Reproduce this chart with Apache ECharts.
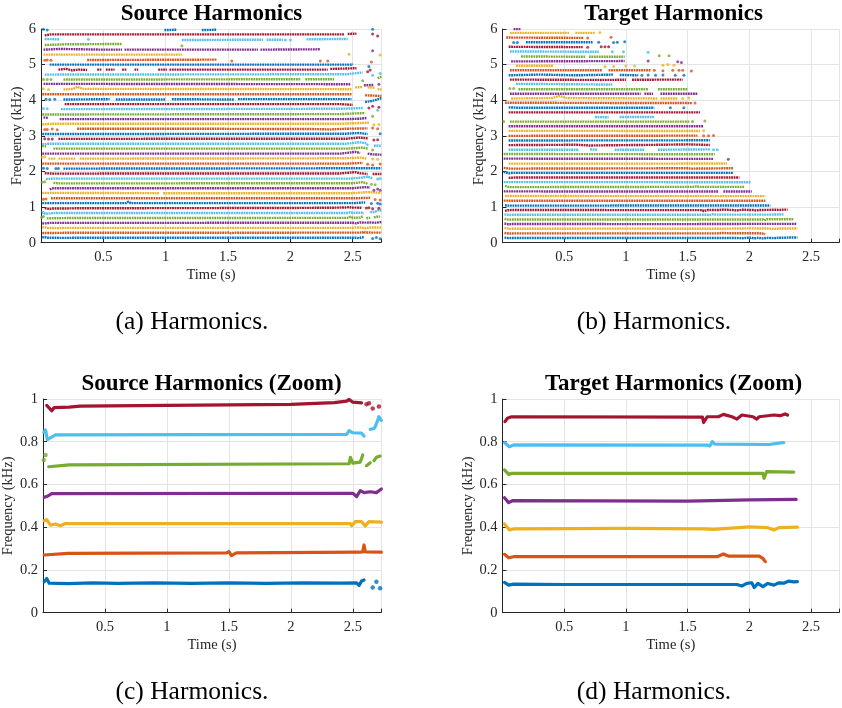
<!DOCTYPE html>
<html>
<head>
<meta charset="utf-8">
<script src="https://cdn.jsdelivr.net/npm/echarts@6/dist/echarts.min.js"></script>
<style>html,body{margin:0;padding:0;background:#fff}#c{width:842px;height:708px}</style>
</head>
<body>
<div id="c"></div>
<script>
// MATLAB default colour order
const COLORS = ['#0072BD','#D95319','#EDB120','#7E2F8E','#77AC30','#4DBEEE','#A2142F'];
const X_TICKS = [0.5, 1, 1.5, 2, 2.5];
const TITLES = ['Source Harmonics', 'Target Harmonics', 'Source Harmonics (Zoom)', 'Target Harmonics (Zoom)'];
const CAPTIONS = ['(a) Harmonics.', '(b) Harmonics.', '(c) Harmonics.', '(d) Harmonics.'];

// ---- Source harmonics 1..7 (time s, freq kHz), used by (a) and (c)
const SRC_LOW = [
 {p:[[[0.01,0.145],[0.03,0.16],[0.05,0.138],[0.2,0.136],[0.4,0.14],[0.6,0.137],[0.9,0.14],[1.2,0.137],[1.5,0.14],[1.8,0.137],[2.1,0.14],[2.4,0.138],[2.53,0.14],[2.55,0.128],[2.57,0.148],[2.59,0.153]]], d:[[2.66,0.118],[2.69,0.145],[2.72,0.114]]},
 {p:[[[0.01,0.27],[0.2,0.278],[1.48,0.28],[1.50,0.286],[1.52,0.267],[1.56,0.28],[2.55,0.283],[2.58,0.285],[2.59,0.317],[2.60,0.285],[2.73,0.283]]], d:[]},
 {p:[[[0.01,0.43],[0.03,0.435],[0.06,0.41],[0.10,0.415],[0.14,0.407],[0.18,0.417],[2.48,0.417],[2.49,0.407],[2.52,0.426],[2.57,0.426],[2.60,0.406],[2.63,0.426],[2.73,0.424]]], d:[]},
 {p:[[[0.01,0.54],[0.04,0.546],[0.07,0.557],[2.50,0.559],[2.53,0.543],[2.56,0.571],[2.59,0.562],[2.64,0.566],[2.69,0.562],[2.73,0.579]]], d:[]},
 {p:[[[0.046,0.683],[0.21,0.692],[2.47,0.697],[2.48,0.727],[2.50,0.70],[2.56,0.705],[2.58,0.738]],[[2.61,0.688],[2.64,0.702]],[[2.67,0.711],[2.69,0.727],[2.72,0.733]]], d:[[0.006,0.715],[0.02,0.738]]},
 {p:[[[0.006,0.844],[0.02,0.855],[0.035,0.81],[0.1,0.832],[2.45,0.834],[2.47,0.852],[2.50,0.842],[2.57,0.840],[2.59,0.827]],[[2.64,0.858],[2.67,0.862],[2.68,0.87],[2.70,0.90],[2.71,0.917],[2.73,0.90]]], d:[]},
 {p:[[[0.03,0.97],[0.07,0.945],[0.09,0.96],[0.21,0.962],[0.30,0.967],[1.0,0.97],[2.0,0.975],[2.35,0.983],[2.45,0.99],[2.47,0.998],[2.50,0.985],[2.57,0.982]]], d:[[2.61,0.975],[2.63,0.98],[2.66,0.955],[2.71,0.965]]}
];

// ---- Source harmonics 8..43, used by (a)
const SRC_HIGH = [
 /*h8*/ {p:[[[0.01,1.11],[0.68,1.11],[0.70,1.15],[0.72,1.11],[2.50,1.11],[2.60,1.13]]], d:[[2.65,1.10],[2.70,1.11],[2.72,1.09]]},
 /*h9*/ {p:[[[0.08,1.25],[2.55,1.25],[2.64,1.26]]], d:[[0.02,1.22],[0.04,1.23],[2.68,1.21],[2.72,1.20]]},
 /*h10*/ {p:[[[0.01,1.40],[0.95,1.39]],[[0.98,1.39],[2.50,1.39],[2.62,1.42],[2.73,1.40]]], d:[]},
 /*h11*/ {p:[[[0.07,1.50],[0.10,1.53],[2.50,1.53],[2.60,1.56],[2.64,1.55]]], d:[[2.67,1.47],[2.70,1.51],[2.72,1.47]]},
 /*h12*/ {p:[[[0.10,1.68],[0.15,1.665],[2.50,1.67],[2.58,1.70],[2.62,1.66]]], d:[[0.01,1.70],[0.03,1.71],[2.65,1.64],[2.68,1.63]]},
 /*h13*/ {p:[[[0.04,1.79],[0.10,1.80],[2.48,1.80],[2.58,1.83],[2.62,1.86],[2.66,1.80]]], d:[[2.70,1.79],[2.72,1.80]]},
 /*h14*/ {p:[[[0.03,1.95],[0.10,1.94],[2.40,1.945],[2.52,1.98],[2.56,1.95],[2.62,1.93]],[[2.66,1.93],[2.73,1.93]]], d:[]},
 /*h15*/ {p:[[[0.18,2.08],[2.65,2.09],[2.73,2.09]]], d:[[0.02,2.09],[0.05,2.08],[0.12,2.08],[0.14,2.08]]},
 /*h16*/ {p:[[[0.01,2.22],[2.45,2.22],[2.58,2.24]]], d:[[2.62,2.20],[2.66,2.18],[2.72,2.21]]},
 /*h17*/ {p:[[[0.06,2.36],[0.12,2.36]],[[0.14,2.36],[0.28,2.36]],[[0.31,2.36],[2.45,2.37],[2.57,2.39],[2.61,2.36]]], d:[[0.01,2.40],[0.03,2.41],[2.66,2.35],[2.70,2.34]]},
 /*h18*/ {p:[[[0.01,2.50],[2.40,2.50],[2.52,2.55],[2.56,2.52]],[[2.62,2.50],[2.66,2.48],[2.73,2.47]]], d:[]},
 /*h19*/ {p:[[[0.01,2.72],[0.04,2.70]],[[0.10,2.64],[2.45,2.64],[2.58,2.67],[2.62,2.64]]], d:[[2.66,2.60]]},
 /*h20*/ {p:[[[0.01,2.76],[0.06,2.78],[2.45,2.78],[2.55,2.82],[2.60,2.80],[2.63,2.72]],[[2.67,2.72],[2.73,2.72]]], d:[]},
 /*h21*/ {p:[[[0.14,2.915],[2.45,2.92],[2.55,2.95],[2.62,2.93]]], d:[[0.03,2.92],[0.06,2.91],[0.09,2.91],[2.67,2.88],[2.70,2.89],[2.73,2.88]]},
 /*h22*/ {p:[[[0.01,3.05],[2.45,3.06],[2.55,3.08],[2.62,3.05]]], d:[[2.72,3.06]]},
 /*h23*/ {p:[[[0.29,3.20],[1.2,3.20],[2.2,3.19],[2.32,3.18],[2.45,3.20],[2.62,3.21]]], d:[[0.03,3.18],[0.05,3.18],[0.09,3.19],[0.13,3.17],[2.66,3.22],[2.70,3.20]]},
 /*h24*/ {p:[[[0.01,3.32],[0.10,3.34],[2.40,3.34],[2.55,3.36],[2.63,3.37]]], d:[[2.67,3.31],[2.71,3.32]]},
 /*h25*/ {p:[[[0.02,3.52],[0.06,3.50]],[[0.15,3.47],[2.45,3.47],[2.55,3.48],[2.61,3.50]]], d:[]},
 /*h26*/ {p:[[[0.01,3.60],[2.40,3.61],[2.52,3.63],[2.60,3.64]]], d:[[2.66,3.55]]},
 /*h27*/ {p:[[[0.16,3.75],[2.40,3.76],[2.58,3.78]]], d:[[0.02,3.77],[0.05,3.76],[2.70,3.72]]},
 /*h28*/ {p:[[[0.19,3.89],[2.40,3.89],[2.50,3.87]]], d:[[2.63,3.78],[2.66,3.83],[2.71,3.80]]},
 /*h29*/ {p:[[[0.18,4.02],[0.55,4.03]],[[0.60,4.02],[1.0,4.02]],[[1.05,4.03],[1.55,4.02]],[[1.58,4.03],[2.49,4.03]],[[2.60,3.95],[2.66,3.98],[2.73,4.06]]], d:[[0.04,4.03],[0.07,4.02],[0.11,4.03]]},
 /*h30*/ {p:[[[0.01,4.17],[2.49,4.17]],[[2.60,4.14],[2.73,4.12]]], d:[]},
 /*h31*/ {p:[[[0.18,4.30],[0.26,4.32],[0.29,4.38],[0.33,4.32],[2.49,4.31]],[[2.52,4.36],[2.58,4.37]],[[2.62,4.36],[2.68,4.35]],[[2.70,4.31],[2.73,4.30]]], d:[[0.02,4.32],[0.06,4.30]]},
 /*h32*/ {p:[[[0.02,4.46],[2.48,4.45]],[[2.59,4.42],[2.67,4.43]]], d:[[2.71,4.45]]},
 /*h33*/ {p:[[[0.18,4.58],[2.08,4.59]],[[2.12,4.59],[2.35,4.59]],[[2.70,4.62],[2.73,4.66]]], d:[[0.02,4.58],[0.05,4.58],[0.08,4.58],[2.58,4.55]]},
 /*h34*/ {p:[[[0.03,4.72],[2.45,4.73],[2.58,4.78]]], d:[[2.66,4.70],[2.72,4.75]]},
 /*h35*/ {p:[[[0.14,4.86],[0.20,4.88],[0.25,4.84],[0.30,4.86],[0.37,4.85]],[[0.45,4.86],[0.49,4.86]],[[0.52,4.86],[0.59,4.86]],[[0.65,4.86],[0.69,4.86]],[[0.75,4.86],[0.78,4.86]],[[0.94,4.86],[1.01,4.86]],[[1.03,4.86],[2.30,4.86]],[[2.32,4.88],[2.45,4.89],[2.53,4.90]]], d:[[2.62,4.80],[2.64,4.85]]},
 /*h36*/ {p:[[[0.07,5.00],[2.49,5.00],[2.50,5.02]]], d:[[2.63,4.95]]},
 /*h37*/ {p:[[[0.37,5.13],[1.41,5.14]]], d:[[0.03,5.12],[0.05,5.13],[0.08,5.12],[1.53,5.10],[2.24,5.10],[2.30,5.10],[2.65,5.07]]},
 /*h38*/ {p:[[[0.02,5.28],[1.13,5.28]]], d:[[2.47,5.29],[2.72,5.27]]},
 /*h39*/ {p:[[[0.02,5.42],[0.15,5.44],[0.5,5.42],[0.65,5.42]],[[0.67,5.42],[1.74,5.42]],[[1.76,5.42],[2.24,5.43]]], d:[[2.66,5.39]]},
 /*h40*/ {p:[[[0.03,5.55],[0.2,5.57],[0.65,5.58]]], d:[[1.13,5.53]]},
 /*h41*/ {p:[[[0.03,5.72],[0.15,5.71]],[[1.13,5.69],[1.78,5.70]],[[1.81,5.70],[1.94,5.70]],[[2.13,5.71],[2.46,5.72]]], d:[[0.38,5.71],[1.96,5.69],[2.0,5.69]]},
 /*h42*/ {p:[[[0.03,5.82],[0.08,5.85],[2.43,5.85]],[[2.46,5.86],[2.53,5.87]]], d:[[2.66,5.86],[2.70,5.80]]},
 /*h43*/ {p:[[[0.99,5.97],[1.09,5.98]],[[1.29,5.97],[1.41,5.98]]], d:[[0.02,5.99],[0.05,5.97],[2.66,5.99]]}
];

// ---- Target harmonics 1..7, used by (b) and (d)
const TGT_LOW = [
 {p:[[[0.016,0.142],[0.05,0.129],[0.09,0.134],[0.5,0.132],[1.0,0.132],[1.5,0.132],[1.90,0.132],[1.94,0.125],[1.98,0.137],[2.02,0.14],[2.04,0.118],[2.07,0.137],[2.11,0.122],[2.15,0.137],[2.20,0.129],[2.24,0.14],[2.28,0.138],[2.32,0.148],[2.36,0.144],[2.39,0.145]]], d:[]},
 {p:[[[0.016,0.273],[0.05,0.257],[0.09,0.262],[1.74,0.262],[1.79,0.275],[1.83,0.265],[2.08,0.265],[2.11,0.254],[2.13,0.239]]], d:[]},
 {p:[[[0.016,0.415],[0.056,0.387],[0.09,0.392],[1.0,0.395],[1.63,0.392],[1.71,0.39],[2.0,0.402],[2.15,0.398],[2.20,0.387],[2.24,0.398],[2.39,0.40]]], d:[]},
 {p:[[[0.016,0.538],[0.05,0.515],[0.08,0.524],[1.5,0.522],[2.0,0.528],[2.38,0.53]]], d:[]},
 {p:[[[0.016,0.668],[0.05,0.647],[0.075,0.652],[2.11,0.652],[2.12,0.629],[2.14,0.66],[2.36,0.658]]], d:[]},
 {p:[[[0.016,0.796],[0.055,0.777],[0.09,0.785],[1.66,0.784],[1.68,0.78],[1.70,0.80],[1.72,0.789],[2.16,0.787],[2.27,0.796],[2.28,0.796]]], d:[]},
 {p:[[[0.02,0.894],[0.04,0.91],[0.074,0.917],[1.62,0.915],[1.63,0.89],[1.66,0.917],[1.75,0.917],[1.79,0.928],[1.86,0.917],[1.90,0.906],[1.94,0.925],[2.03,0.917],[2.06,0.906],[2.08,0.917],[2.20,0.925],[2.25,0.922],[2.29,0.93],[2.31,0.925]]], d:[]}
];

// ---- Target harmonics 8..46, used by (b)
const TGT_HIGH = [
 /*h8*/ {p:[[[0.02,1.05],[0.05,1.04],[2.17,1.046]]], d:[]},
 /*h9*/ {p:[[[0.01,1.18],[2.13,1.176]]], d:[]},
 /*h10*/ {p:[[[0.02,1.31],[2.13,1.307]]], d:[]},
 /*h11*/ {p:[[[0.01,1.44],[1.75,1.438]],[[1.79,1.438],[2.02,1.438]]], d:[]},
 /*h12*/ {p:[[[0.02,1.59],[0.06,1.56],[1.55,1.568],[1.57,1.58],[1.60,1.568],[1.96,1.568]]], d:[]},
 /*h13*/ {p:[[[0.01,1.70],[2.01,1.699]]], d:[]},
 /*h14*/ {p:[[[0.05,1.82],[0.10,1.83],[1.92,1.83]]], d:[]},
 /*h15*/ {p:[[[0.01,1.99],[0.05,1.95],[0.08,1.96],[1.87,1.961]]], d:[]},
 /*h16*/ {p:[[[0.01,2.10],[0.06,2.08],[1.50,2.09],[1.53,2.08],[1.87,2.091]]], d:[]},
 /*h17*/ {p:[[[0.05,2.22],[1.82,2.222]]], d:[]},
 /*h18*/ {p:[[[0.01,2.36],[1.71,2.353]]], d:[[1.83,2.34]]},
 /*h19*/ {p:[[[0.01,2.49],[1.72,2.483]]], d:[]},
 /*h20*/ {p:[[[0.05,2.61],[0.62,2.61]],[[0.71,2.62],[0.77,2.61]],[[0.91,2.61],[1.15,2.61]],[[1.26,2.61],[1.68,2.62]]], d:[[1.71,2.61],[1.74,2.61]]},
 /*h21*/ {p:[[[0.05,2.74],[0.6,2.75],[0.7,2.73],[1.3,2.75],[1.5,2.76],[1.68,2.745]]], d:[]},
 /*h22*/ {p:[[[0.05,2.87],[1.68,2.875]]], d:[]},
 /*h23*/ {p:[[[0.05,3.0],[1.58,3.006]]], d:[[1.63,3.0],[1.67,3.0],[1.71,3.01]]},
 /*h24*/ {p:[[[0.05,3.14],[1.60,3.137]]], d:[[1.63,3.14]]},
 /*h25*/ {p:[[[0.05,3.27],[1.63,3.268]]], d:[]},
 /*h26*/ {p:[[[0.06,3.40],[1.52,3.398]]], d:[[0.01,3.40],[1.54,3.40],[1.64,3.42]]},
 /*h27*/ {p:[[[0.75,3.53],[0.86,3.52]],[[0.95,3.53],[1.23,3.53]]], d:[]},
 /*h28*/ {p:[[[0.05,3.66],[1.60,3.66]]], d:[]},
 /*h29*/ {p:[[[0.05,3.80],[0.12,3.79],[1.23,3.79]]], d:[[1.36,3.79],[1.47,3.79]]},
 /*h30*/ {p:[[[0.02,3.93],[1.54,3.92]]], d:[[1.56,3.92]]},
 /*h31*/ {p:[[[0.07,4.05],[0.40,4.06],[0.46,4.12],[0.52,4.06],[1.26,4.05]],[[1.28,4.05],[1.42,4.05]]], d:[[1.46,4.05],[1.51,4.06]]},
 /*h32*/ {p:[[[0.06,4.18],[1.12,4.18]],[[1.15,4.18],[1.22,4.18]],[[1.28,4.18],[1.58,4.18]]], d:[]},
 /*h33*/ {p:[[[0.13,4.31],[1.18,4.31]],[[1.26,4.31],[1.50,4.31]]], d:[[0.06,4.33],[0.09,4.33]]},
 /*h34*/ {p:[[[0.11,4.46],[0.89,4.44]]], d:[]},
 /*h35*/ {p:[[[0.06,4.58],[0.8,4.57],[1.0,4.575]],[[1.05,4.575],[1.46,4.58]]], d:[]},
 /*h36*/ {p:[[[0.05,4.70],[0.3,4.72],[0.6,4.70],[0.90,4.72]],[[0.95,4.71],[1.10,4.70]]], d:[[1.13,4.70],[1.18,4.71],[1.24,4.70],[1.30,4.71],[1.40,4.70],[1.47,4.70]]},
 /*h37*/ {p:[[[0.06,4.84],[0.81,4.84]],[[0.86,4.84],[1.20,4.84]]], d:[[1.23,4.84],[1.30,4.83],[1.38,4.84],[1.43,4.84],[1.46,4.84],[1.53,4.82]]},
 /*h38*/ {p:[[[0.11,4.97],[0.41,4.97]]], d:[[0.83,4.95],[0.90,4.95],[1.0,4.96],[1.07,4.96],[1.30,4.98],[1.34,5.0],[1.39,4.98]]},
 /*h39*/ {p:[[[0.07,5.09],[0.99,5.10]]], d:[[1.18,5.10],[1.42,5.08],[1.45,5.06]]},
 /*h40*/ {p:[[[0.15,5.23],[0.67,5.22]],[[0.70,5.22],[0.99,5.22]]], d:[[1.27,5.25],[1.35,5.25]]},
 /*h41*/ {p:[[[0.06,5.37],[0.78,5.36]]], d:[[0.89,5.36],[0.98,5.36],[1.18,5.35]]},
 /*h42*/ {p:[[[0.05,5.50],[0.65,5.49]]], d:[[0.69,5.49],[0.80,5.50],[0.83,5.50],[0.86,5.50]]},
 /*h43*/ {p:[[[0.19,5.63],[0.73,5.63]]], d:[[0.09,5.62],[0.12,5.62],[0.78,5.63],[0.90,5.62],[0.93,5.63],[0.99,5.64]]},
 /*h44*/ {p:[[[0.03,5.76],[0.66,5.75]]], d:[[0.69,5.75],[0.88,5.77]]},
 /*h45*/ {p:[[[0.06,5.89],[0.54,5.89]],[[0.59,5.89],[0.75,5.89]]], d:[[0.79,5.90]]},
 /*h46*/ {p:[[[0.09,6.0],[0.15,6.0]]], d:[[0.47,6.02]]}
];

// ---------------- layout ----------------
const FONT = 'Liberation Serif';
const INK = '#262626';
const GRIDS = [
  {left: 41,    top: 29,  width: 340,   height: 213.7},
  {left: 502.5, top: 29,  width: 341.7, height: 213.7},
  {left: 41,    top: 399, width: 340,   height: 213.7},
  {left: 502.5, top: 399, width: 341.7, height: 213.7}
];
const YMAX = [6, 6, 1, 1];
const YINT = [1, 1, 0.2, 0.2];
const YNAMEGAP = [14, 14, 24, 24];

const xAxes = GRIDS.map((g, i) => ({
  type: 'value', gridIndex: i, min: 0, max: 2.727, interval: 0.5,
  name: 'Time (s)', nameLocation: 'middle', nameGap: 25,
  nameTextStyle: {fontFamily: FONT, fontSize: 14.5, color: INK},
  axisLine: {show: true, onZero: false, lineStyle: {color: INK, width: 1}},
  axisTick: {show: true, inside: true, length: 4, lineStyle: {color: INK}},
  axisLabel: {fontFamily: FONT, fontSize: 14.5, color: INK, margin: 7,
    formatter: v => (X_TICKS.some(t => Math.abs(t - v) < 1e-6) ? String(v) : '')},
  splitLine: {show: true, lineStyle: {color: '#e4e4e4', width: 1}}
}));
const yAxes = GRIDS.map((g, i) => ({
  type: 'value', gridIndex: i, min: 0, max: YMAX[i], interval: YINT[i],
  name: 'Frequency (kHz)', nameLocation: 'middle', nameGap: YNAMEGAP[i],
  nameTextStyle: {fontFamily: FONT, fontSize: 14.5, color: INK},
  axisLine: {show: true, lineStyle: {color: INK, width: 1}},
  axisTick: {show: true, inside: true, length: 4, lineStyle: {color: INK}},
  axisLabel: {fontFamily: FONT, fontSize: 14.5, color: INK, margin: 5,
    formatter: v => String(Math.round(v * 10) / 10)},
  splitLine: {show: true, lineStyle: {color: '#e4e4e4', width: 1}}
}));

function panelSeries(idx, harmonics, lw, ds, dash, cap) {
  const lineData = [], dotData = [];
  harmonics.forEach((h, k) => {
    const col = COLORS[k % 7];
    h.p.forEach(poly => lineData.push({coords: poly, lineStyle: {color: col}}));
    h.d.forEach(pt => dotData.push({value: pt, itemStyle: {color: col}}));
  });
  return [
    {type: 'lines', coordinateSystem: 'cartesian2d', xAxisIndex: idx, yAxisIndex: idx,
     polyline: true, silent: true,
     lineStyle: {width: lw, opacity: 1, type: dash, join: 'round', cap: cap}, data: lineData},
    {type: 'scatter', xAxisIndex: idx, yAxisIndex: idx, symbol: 'circle',
     symbolSize: ds, silent: true, data: dotData}
  ];
}

const series = [].concat(
  panelSeries(0, SRC_LOW.concat(SRC_HIGH), 2.4, 3, [1.8, 0.7], 'butt'),
  panelSeries(1, TGT_LOW.concat(TGT_HIGH), 2.4, 3, [1.8, 0.7], 'butt'),
  panelSeries(2, SRC_LOW, 3.2, 4.5, 'solid', 'round'),
  panelSeries(3, TGT_LOW, 3.2, 4.5, 'solid', 'round')
);

const titlePos = [[211.5, 14], [673.5, 14], [211.5, 384], [673.5, 384]];
const capPos = [[192, 322], [654, 322], [192, 692], [654, 692]];
const graphic = [];
TITLES.forEach((t, i) => graphic.push({type: 'text', x: titlePos[i][0], y: titlePos[i][1],
  style: {text: t, font: 'bold 23px "Liberation Serif"', fill: '#000', align: 'center', verticalAlign: 'middle', textAlign: 'center', textVerticalAlign: 'middle'}}));
CAPTIONS.forEach((t, i) => graphic.push({type: 'text', x: capPos[i][0], y: capPos[i][1],
  style: {text: t, font: '25.5px "Liberation Serif"', fill: '#000', align: 'center', verticalAlign: 'middle', textAlign: 'center', textVerticalAlign: 'middle'}}));

const chart = echarts.init(document.getElementById('c'), null, {renderer: 'canvas'});
chart.setOption({
  animation: false,
  backgroundColor: '#fff',
  grid: GRIDS.map(g => Object.assign({containLabel: false}, g)),
  xAxis: xAxes, yAxis: yAxes,
  series: series,
  graphic: graphic
});
</script>
</body>
</html>
